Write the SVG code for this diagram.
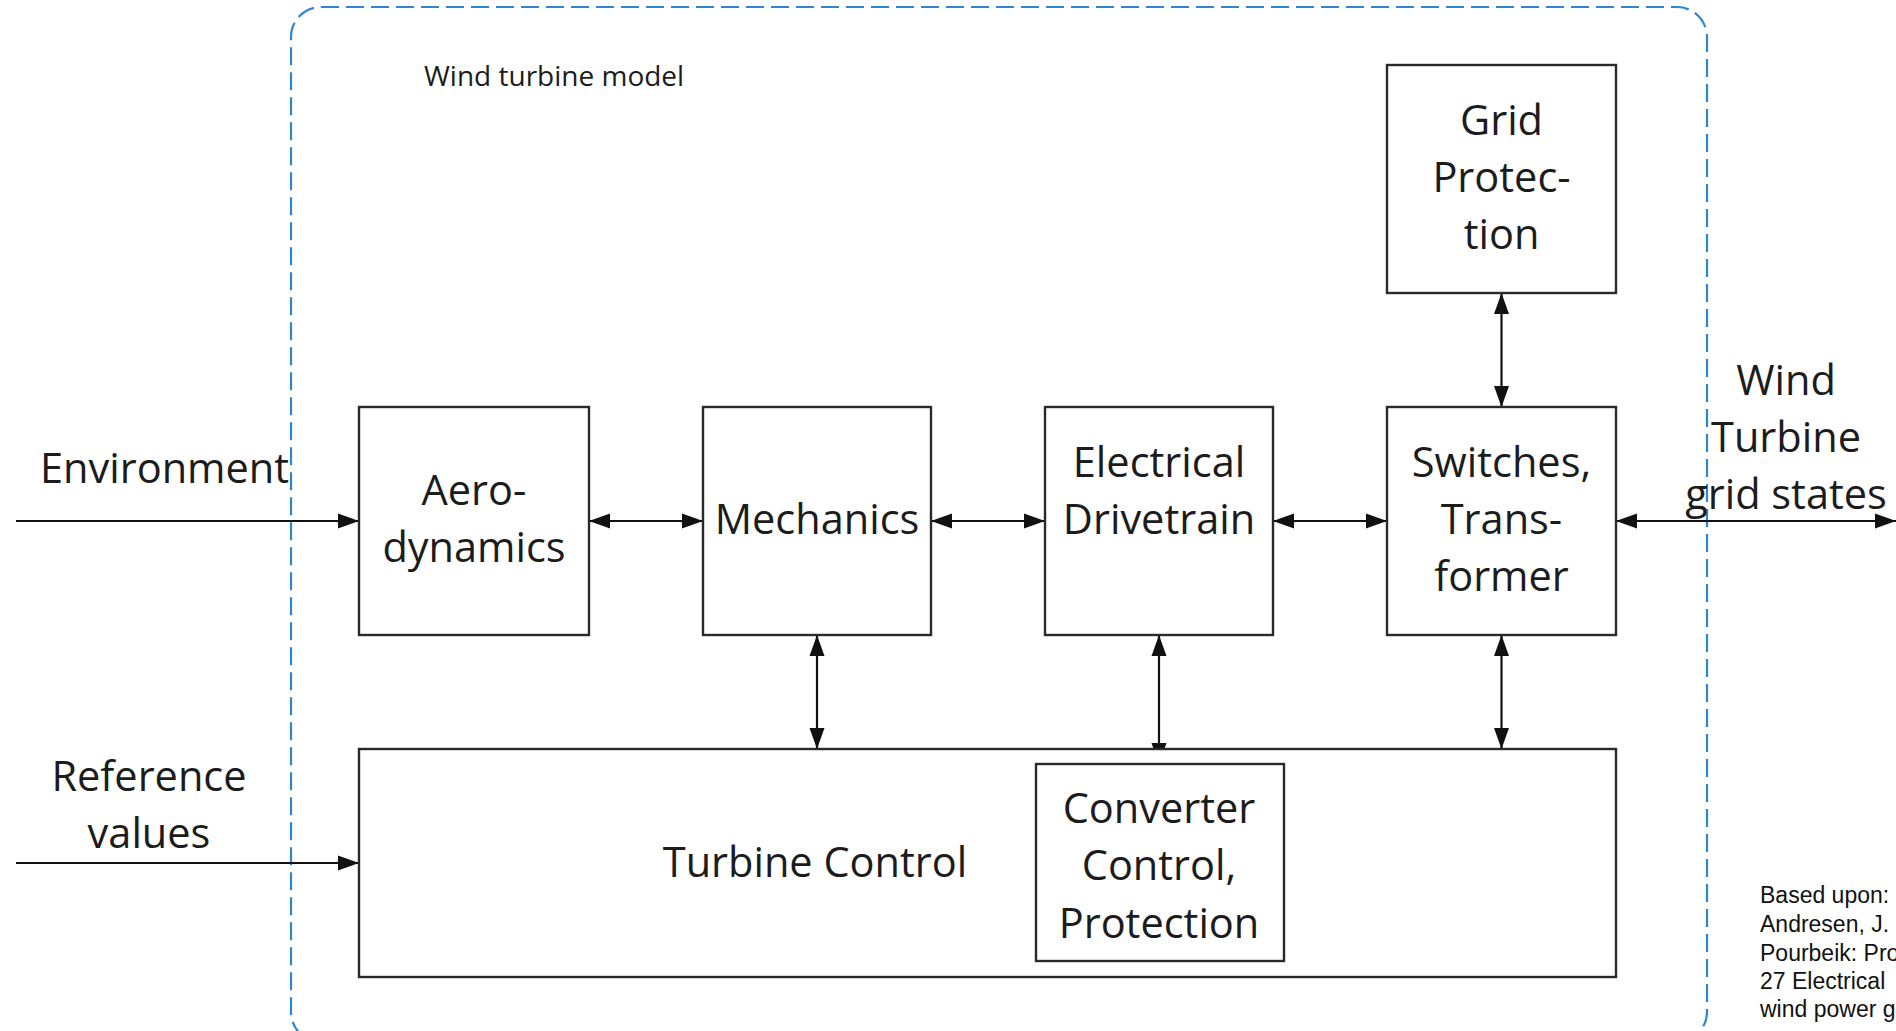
<svg xmlns="http://www.w3.org/2000/svg" width="1896" height="1031" viewBox="0 0 1896 1031">
<defs>
<style>
.box{fill:#ffffff;stroke:#2a2a2a;stroke-width:2.4}
.lbl{font-family:"Open Sans","Noto Sans",sans-serif;font-size:41.5px;fill:#1c1c1c;text-anchor:middle}
.side{font-family:"Open Sans","Noto Sans",sans-serif;font-size:41.5px;fill:#1c1c1c}
.conn{stroke:#111111;stroke-width:2.2;fill:none}
.cite{font-family:"Liberation Sans",Arial,sans-serif;font-size:23px;fill:#111111}
</style>
<marker id="ah" markerUnits="userSpaceOnUse" markerWidth="22" markerHeight="16" refX="21" refY="8" orient="auto-start-reverse" viewBox="0 0 22 16">
<path d="M0,0.5 L21,8 L0,15.5 z" fill="#111111"/>
</marker>
</defs>
<rect x="0" y="0" width="1896" height="1031" fill="#ffffff"/>

<g id="model-boundary">
<rect x="291" y="7" width="1416" height="1035" rx="30" ry="30" fill="none" stroke="#2e86d1" stroke-width="2.2" stroke-dasharray="18 7"/>
<text x="424" y="86" style="font-family:'Open Sans','Noto Sans',sans-serif;font-size:28px;fill:#1c1c1c">Wind turbine model</text>
</g>

<g id="connectors">
<line class="conn" x1="16" y1="521" x2="359" y2="521" marker-end="url(#ah)"/>
<line class="conn" x1="589" y1="521" x2="703" y2="521" marker-start="url(#ah)" marker-end="url(#ah)"/>
<line class="conn" x1="931" y1="521" x2="1045" y2="521" marker-start="url(#ah)" marker-end="url(#ah)"/>
<line class="conn" x1="1273" y1="521" x2="1387" y2="521" marker-start="url(#ah)" marker-end="url(#ah)"/>
<line class="conn" x1="1616" y1="521" x2="1896" y2="521" marker-start="url(#ah)" marker-end="url(#ah)"/>
<line class="conn" x1="1501.5" y1="293" x2="1501.5" y2="407" marker-start="url(#ah)" marker-end="url(#ah)"/>
<line class="conn" x1="817" y1="635" x2="817" y2="749" marker-start="url(#ah)" marker-end="url(#ah)"/>
<line class="conn" x1="1159" y1="635" x2="1159" y2="764" marker-start="url(#ah)" marker-end="url(#ah)"/>
<line class="conn" x1="1501.5" y1="635" x2="1501.5" y2="749" marker-start="url(#ah)" marker-end="url(#ah)"/>
<line class="conn" x1="16" y1="863" x2="359" y2="863" marker-end="url(#ah)"/>
</g>

<g id="environment-label">
<text class="side" x="40" y="483">Environment</text>
</g>
<g id="reference-label">
<text class="lbl" x="149" y="791">Reference</text>
<text class="lbl" x="149" y="848">values</text>
</g>
<g id="grid-states-label">
<text class="lbl" x="1786" y="395">Wind</text>
<text class="lbl" x="1786" y="452">Turbine</text>
<text class="lbl" x="1786" y="509">grid states</text>
</g>

<g id="aerodynamics">
<rect class="box" x="359" y="407" width="230" height="228"/>
<text class="lbl" x="474" y="505">Aero-</text>
<text class="lbl" x="474" y="562">dynamics</text>
</g>
<g id="mechanics">
<rect class="box" x="703" y="407" width="228" height="228"/>
<text class="lbl" x="817" y="534">Mechanics</text>
</g>
<g id="electrical-drivetrain">
<rect class="box" x="1045" y="407" width="228" height="228"/>
<text class="lbl" x="1159" y="477">Electrical</text>
<text class="lbl" x="1159" y="534">Drivetrain</text>
</g>
<g id="switches-transformer">
<rect class="box" x="1387" y="407" width="229" height="228"/>
<text class="lbl" x="1501.5" y="477">Switches,</text>
<text class="lbl" x="1501.5" y="534">Trans-</text>
<text class="lbl" x="1501.5" y="591">former</text>
</g>
<g id="grid-protection">
<rect class="box" x="1387" y="65" width="229" height="228"/>
<text class="lbl" x="1501.5" y="135">Grid</text>
<text class="lbl" x="1501.5" y="192">Protec-</text>
<text class="lbl" x="1501.5" y="249">tion</text>
</g>
<g id="turbine-control">
<rect class="box" x="359" y="749" width="1257" height="228"/>
<text class="lbl" x="815" y="877">Turbine Control</text>
</g>
<g id="converter-control">
<rect class="box" x="1036" y="764" width="248" height="197"/>
<text class="lbl" x="1159" y="823">Converter</text>
<text class="lbl" x="1159" y="880">Control,</text>
<text class="lbl" x="1159" y="938">Protection</text>
</g>

<g id="citation">
<text class="cite" x="1760" y="903">Based upon:</text>
<text class="cite" x="1760" y="932">Andresen, J.</text>
<text class="cite" x="1760" y="961">Pourbeik: Pro</text>
<text class="cite" x="1760" y="989">27 Electrical</text>
<text class="cite" x="1760" y="1017">wind power g</text>
</g>
</svg>
